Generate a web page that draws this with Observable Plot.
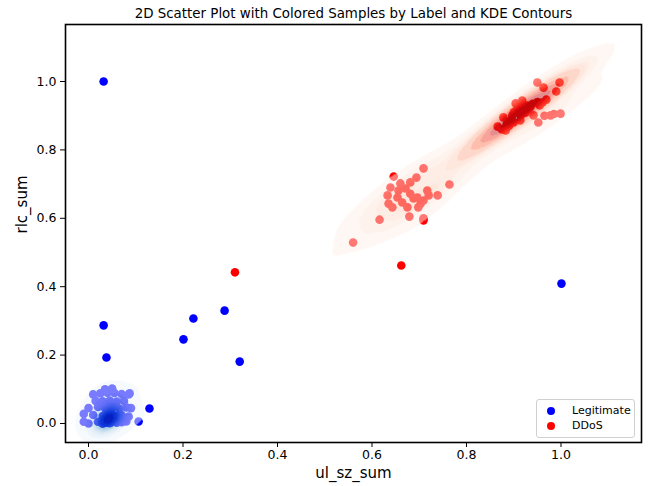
<!DOCTYPE html>
<html><head><meta charset="utf-8">
<script src="https://cdn.jsdelivr.net/npm/d3@7"></script>
<script src="https://cdn.jsdelivr.net/npm/@observablehq/plot@0.6"></script>
<style>
body{margin:0;background:#fff;}
#wrap{position:relative;width:651px;height:486px;font-family:"DejaVu Sans",sans-serif;}
#wrap svg{position:absolute;left:0;top:0;}
.legend{position:absolute;left:536px;top:399px;width:99px;height:39px;box-sizing:border-box;border:1px solid #d0d0d0;border-radius:3px;background:rgba(255,255,255,0.8);font-size:11px;color:#000;font-family:"DejaVu Sans",sans-serif;}
.legend .row{position:absolute;left:0;height:14px;line-height:14px;white-space:nowrap;}
.legend .sw{position:absolute;left:10px;top:3px;width:8px;height:8px;border-radius:50%;}
.legend .lb{position:absolute;left:35px;top:0;}
</style>
</head><body>
<div id="wrap"></div>
<script>
const title = "2D Scatter Plot with Colored Samples by Label and KDE Contours";
const xLabel = "ul_sz_sum";
const yLabel = "rlc_sum";
const labels = ["Legitimate", "DDoS"];
const colors = ["#0000ff", "#ff0000"];
const xTicks = [0, 0.2, 0.4, 0.6, 0.8, 1.0];
const yTicks = [0, 0.2, 0.4, 0.6, 0.8, 1.0];
const xDomain = [-0.0487, 1.1704];
const yDomain = [-0.0556, 1.1667];

// Legitimate samples (x, y, and estimated multiplicity of overlapping samples)
const legitX = [0.032, 0.032, 0.038, 0.222, 0.201, 0.288, 0.320, 0.129, 0.106, 1.001, 0.087,
  -0.010, 0.000, 0.020, 0.030, 0.040, 0.050, 0.060, 0.070, 0.080,
  -0.010, 0.010, 0.030, 0.040, 0.050, 0.060, 0.070, 0.085,
  0.000, 0.020, 0.035, 0.050, 0.065, 0.080, 0.090,
  0.015, 0.030, 0.045, 0.060, 0.075,
  0.010, 0.025, 0.040, 0.055, 0.070, 0.085,
  0.035, 0.050,
  0.035, 0.040, 0.045, 0.040, 0.050, 0.030, 0.045, 0.040, 0.050, 0.042, 0.038, 0.046,
  0.040, 0.044, 0.036, 0.048, 0.041, 0.043, 0.039, 0.047, 0.042, 0.045];
const legitY = [1.000, 0.287, 0.193, 0.307, 0.246, 0.330, 0.181, 0.044, 0.006, 0.409, 0.088,
  0.005, 0.000, 0.005, 0.000, 0.003, 0.005, 0.002, 0.004, 0.006,
  0.028, 0.025, 0.022, 0.025, 0.028, 0.022, 0.025, 0.020,
  0.045, 0.048, 0.045, 0.046, 0.044, 0.047, 0.045,
  0.066, 0.065, 0.067, 0.064, 0.066,
  0.085, 0.088, 0.090, 0.089, 0.086, 0.085,
  0.100, 0.102,
  0.010, 0.005, 0.015, 0.020, 0.010, 0.000, 0.030, 0.040, 0.050, 0.012, 0.060, 0.008,
  0.002, 0.006, 0.004, 0.012, 0.018, 0.024, 0.035, 0.003, 0.008, 0.001];
const legitW = [1, 1, 1, 1, 1, 1, 1, 1, 1, 1, 1,
  1, 1, 1, 1, 1, 1, 1, 1, 1,
  1, 1, 1, 1, 1, 1, 1, 1,
  1, 1, 1, 1, 1, 1, 1,
  1, 1, 1, 1, 1,
  1, 1, 1, 1, 1, 1,
  1, 1,
  10, 10, 10, 10, 10, 10, 10, 10, 10, 10, 10, 10,
  10, 10, 10, 10, 10, 10, 10, 10, 10, 10];

// DDoS samples
const ddosX = [0.310, 0.662, 0.709,
  0.950, 0.997, 0.990, 0.963, 0.969, 0.999, 0.978, 0.952, 0.942, 0.866, 0.883, 0.904, 0.929,
  0.897, 0.914, 0.887, 0.925, 0.935, 0.908, 0.878, 0.961, 0.918,
  0.900, 0.905, 0.910, 0.895, 0.885, 0.920, 0.930, 0.915, 0.900, 0.890, 0.875, 0.940, 0.950,
  0.925, 0.910, 0.955, 0.965, 0.985,
  0.560, 0.616, 0.679, 0.709, 0.646, 0.709, 0.764, 0.694,
  0.633, 0.643, 0.660, 0.671, 0.681, 0.688, 0.654, 0.664, 0.698, 0.709, 0.720, 0.739, 0.696,
  0.675, 0.635, 0.656, 0.639, 0.681, 0.703, 0.717];
const ddosY = [0.442, 0.462, 0.600,
  0.997, 0.997, 0.971, 0.982, 0.947, 0.906, 0.901, 0.880, 0.901, 0.868, 0.857, 0.936, 0.930,
  0.901, 0.886, 0.880, 0.909, 0.924, 0.909, 0.895, 0.939, 0.944,
  0.910, 0.915, 0.920, 0.890, 0.875, 0.930, 0.920, 0.900, 0.880, 0.870, 0.860, 0.935, 0.940,
  0.925, 0.930, 0.930, 0.900, 0.905,
  0.529, 0.596, 0.605, 0.594, 0.722, 0.746, 0.699, 0.719,
  0.667, 0.632, 0.702, 0.687, 0.672, 0.658, 0.661, 0.646, 0.632, 0.652, 0.667, 0.667, 0.661,
  0.632, 0.643, 0.681, 0.690, 0.705, 0.643, 0.681];
const ddosW = [1, 1, 1,
  1, 1, 1, 1, 1, 1, 1, 1, 1, 1, 1, 1, 1,
  1, 1, 1, 1, 1, 1, 1, 1, 1,
  6, 6, 6, 6, 6, 6, 6, 6, 6, 6, 6, 6, 6,
  6, 6, 6, 3, 3,
  1, 1, 1, 1, 1, 1, 1, 1,
  2, 2, 2, 2, 2, 2, 2, 2, 2, 2, 2, 2, 2,
  2, 2, 2, 2, 2, 2, 2];

// KDE settings (seaborn-like: Scott's rule, 10 iso-proportion levels, thresh 0.05, alpha 0.5)
const kdeLevels = 10, kdeThresh = 0.05, kdeAlpha = 0.5;
const bwAdjust = {Legitimate: 0.55, DDoS: 1.05};

const legit = legitX.map((x, i) => ({x, y: legitY[i], label: labels[0]}));
const ddos = ddosX.map((x, i) => ({x, y: ddosY[i], label: labels[1]}));
const all = legit.concat(ddos);

function gaussianKde(xs, ys, ws, adjust) {
  const n = xs.length;
  const W = d3.sum(ws);
  const w = ws.map(v => v / W);
  const neff = 1 / d3.sum(w, v => v * v);
  let mx = 0, my = 0;
  for (let i = 0; i < n; ++i) { mx += w[i] * xs[i]; my += w[i] * ys[i]; }
  let sxx = 0, syy = 0, sxy = 0;
  for (let i = 0; i < n; ++i) {
    const dx = xs[i] - mx, dy = ys[i] - my;
    sxx += w[i] * dx * dx; syy += w[i] * dy * dy; sxy += w[i] * dx * dy;
  }
  const fact = 1 - 1 / neff;
  sxx /= fact; syy /= fact; sxy /= fact;
  const f2 = Math.pow(Math.pow(neff, -1 / 6) * adjust, 2);
  const a = sxx * f2, b = sxy * f2, c = syy * f2;
  const det = a * c - b * b;
  const ia = c / det, ib = -b / det, ic = a / det;
  const k = 1 / (2 * Math.PI * Math.sqrt(det));
  const fn = (x, y) => {
    let s = 0;
    for (let i = 0; i < n; ++i) {
      const dx = x - xs[i], dy = y - ys[i];
      s += w[i] * Math.exp(-0.5 * (ia * dx * dx + 2 * ib * dx * dy + ic * dy * dy));
    }
    return s * k;
  };
  fn.bw = [Math.sqrt(a), Math.sqrt(c)];
  return fn;
}

function bandFill(xs, ys, ws, adjust, interp) {
  const kde = gaussianKde(xs, ys, ws, adjust);
  const G = 200;
  const x0 = d3.min(xs) - 3 * kde.bw[0], x1 = d3.max(xs) + 3 * kde.bw[0];
  const y0 = d3.min(ys) - 3 * kde.bw[1], y1 = d3.max(ys) + 3 * kde.bw[1];
  const vals = [];
  for (let i = 0; i < G; ++i) for (let j = 0; j < G; ++j)
    vals.push(kde(x0 + (x1 - x0) * i / (G - 1), y0 + (y1 - y0) * j / (G - 1)));
  const sorted = vals.slice().sort((p, q) => q - p);
  const total = d3.sum(sorted);
  const cum = []; let acc = 0;
  for (const v of sorted) { acc += v; cum.push(acc / total); }
  const qs = d3.range(kdeLevels).map(i => kdeThresh + (1 - kdeThresh) * i / (kdeLevels - 1));
  const levels = qs.map(q => sorted[Math.min(sorted.length - 1, d3.bisectLeft(cum, 1 - q))]);
  const lo = levels[0], hi = levels[levels.length - 1];
  const bandColors = d3.range(levels.length - 1).map(i => interp(((levels[i] + levels[i + 1]) / 2 - lo) / (hi - lo)));
  return (x, y) => {
    if (x < x0 || x > x1 || y < y0 || y > y1) return null;
    const d = kde(x, y);
    if (d < lo) return null;
    let i = d3.bisectRight(levels, d) - 1;
    if (i >= bandColors.length) i = bandColors.length - 1;
    return bandColors[i];
  };
}

const blueFill = bandFill(legitX, legitY, legitW, bwAdjust.Legitimate, d3.interpolateBlues);
const redFill = bandFill(ddosX, ddosY, ddosW, bwAdjust.DDoS, d3.interpolateReds);

const chart = Plot.plot({
  width: 651, height: 486,
  marginLeft: 65, marginRight: 10, marginTop: 24, marginBottom: 44,
  style: {background: "white", fontFamily: "DejaVu Sans, sans-serif", color: "#000"},
  x: {domain: xDomain, axis: null},
  y: {domain: yDomain, axis: null},
  color: {type: "identity"},
  marks: [
    Plot.dot(all, {x: "x", y: "y", r: 4.3, fill: d => d.label === labels[0] ? colors[0] : colors[1], stroke: "none"}),
    Plot.raster({x1: xDomain[0], x2: xDomain[1], y1: yDomain[0], y2: yDomain[1], pixelSize: 1, fill: blueFill, fillOpacity: kdeAlpha}),
    Plot.raster({x1: xDomain[0], x2: xDomain[1], y1: yDomain[0], y2: yDomain[1], pixelSize: 1, fill: redFill, fillOpacity: kdeAlpha}),
    Plot.axisX(xTicks, {tickFormat: d3.format(".1f"), tickSize: 5, tickPadding: 3, fontSize: 12.5, label: null, stroke: "#000", fill: "#000"}),
    Plot.axisY(yTicks, {tickFormat: d3.format(".1f"), tickSize: 5, tickPadding: 4, fontSize: 12.5, label: null, stroke: "#000", fill: "#000"}),
    Plot.frame({stroke: "#000", strokeWidth: 1.6}),
    Plot.text([title], {frameAnchor: "top", dy: -11, lineAnchor: "middle", fontSize: 13.4, fill: "#000"}),
    Plot.text([xLabel], {frameAnchor: "bottom", dy: 31, lineAnchor: "middle", fontSize: 15, fill: "#000"}),
    Plot.text([yLabel], {frameAnchor: "left", dx: -43, rotate: -90, lineAnchor: "middle", fontSize: 15, fill: "#000"})
  ]
});

const wrap = document.getElementById("wrap");
wrap.appendChild(chart);

const leg = document.createElement("div");
leg.className = "legend";
labels.forEach((l, i) => {
  const row = document.createElement("div");
  row.className = "row";
  row.style.top = (4 + i * 15) + "px";
  row.style.width = "100%";
  const sw = document.createElement("span");
  sw.className = "sw";
  sw.style.background = colors[i];
  const lb = document.createElement("span");
  lb.className = "lb";
  lb.textContent = l;
  row.appendChild(sw); row.appendChild(lb);
  leg.appendChild(row);
});
wrap.appendChild(leg);
</script>
</body></html>
